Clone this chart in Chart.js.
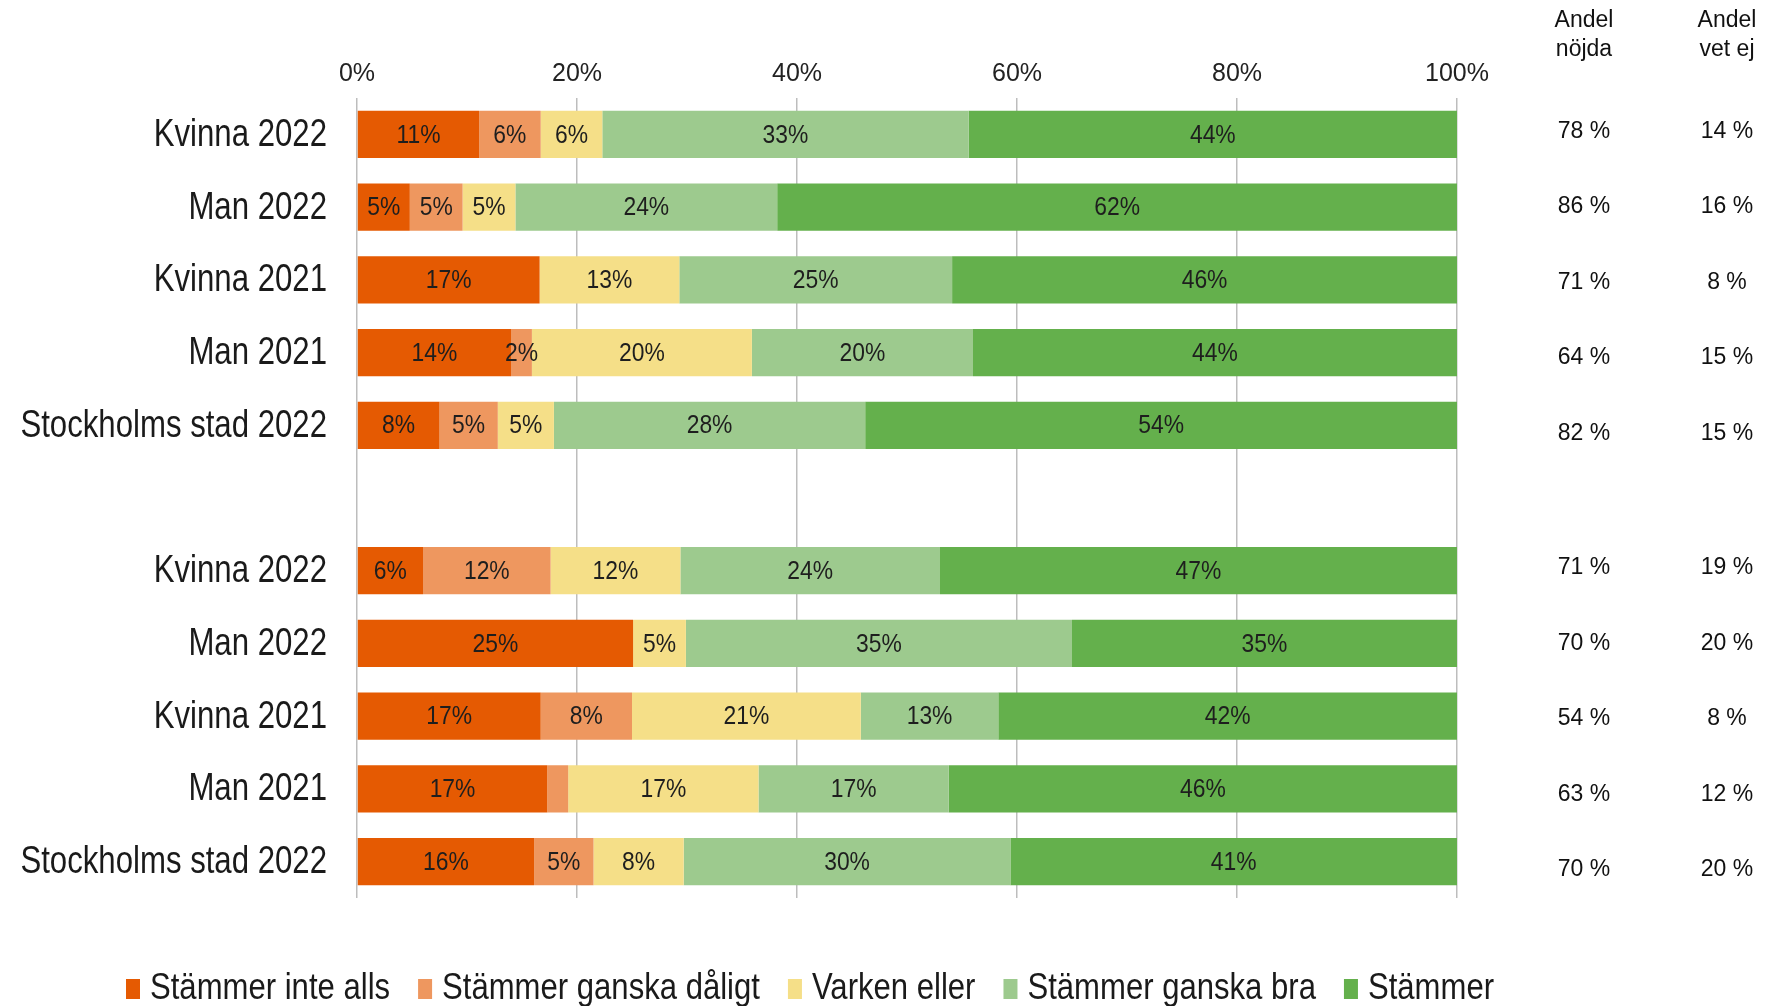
<!DOCTYPE html>
<html>
<head>
<meta charset="utf-8">
<script src="https://cdn.jsdelivr.net/npm/chart.js@4.4.1/dist/chart.umd.min.js"></script>
<style>
  html, body { margin: 0; padding: 0; background: #fff; }
</style>
</head>
<body>
<canvas id="chart" width="1770" height="1006"></canvas>
<script>
// kategorier (tom rad skiljer de två grupperna)
const categories = ['Kvinna 2022', 'Man 2022', 'Kvinna 2021', 'Man 2021', 'Stockholms stad 2022', '',
  'Kvinna 2022', 'Man 2022', 'Kvinna 2021', 'Man 2021', 'Stockholms stad 2022'];
const seriesNames = ['Stämmer inte alls', 'Stämmer ganska dåligt', 'Varken eller', 'Stämmer ganska bra', 'Stämmer'];

// andelar i procent
const inteAlls     = [11.1, 4.8, 16.6, 14.0, 7.5, null, 6.0, 25.1, 16.7, 17.3, 16.1];
const ganskaDaligt = [5.6, 4.8, 0, 1.9, 5.3, null, 11.6, 0, 8.3, 1.9, 5.4];
const varkenEller  = [5.6, 4.8, 12.7, 20.0, 5.1, null, 11.8, 4.8, 20.8, 17.3, 8.2];
const ganskaBra    = [33.3, 23.8, 24.8, 20.1, 28.3, null, 23.6, 35.1, 12.5, 17.3, 29.7];
const stammer      = [44.4, 61.8, 45.9, 44.0, 53.8, null, 47.0, 35.0, 41.7, 46.2, 40.6];

// kolumnerna till höger
const andelNojda = [78, 86, 71, 64, 82, null, 71, 70, 54, 63, 70];
const andelVetEj = [14, 16, 8, 15, 15, null, 19, 20, 8, 12, 20];

const xTicks = [0, 20, 40, 60, 80, 100];
const unlabeled = ['1-9']; // liten stapel utan etikett (dataset-rad)

const colors = ['#E55A02', '#EE975F', '#F5DF88', '#9DCA8E', '#64B04C'];
const family = "'Liberation Sans', Arial, sans-serif";

const seriesData = [inteAlls, ganskaDaligt, varkenEller, ganskaBra, stammer];

// smal text: typsnittet trycks ihop i x-led
function narrowText(ctx, text, x, y, align, sx) {
  ctx.save();
  ctx.translate(x, y);
  ctx.scale(sx, 1);
  ctx.textAlign = align;
  ctx.fillText(text, 0, 0);
  ctx.restore();
}

const labelPlugin = {
  id: 'segmentLabels',
  afterDatasetsDraw(chart) {
    const ctx = chart.ctx;
    ctx.save();
    ctx.font = '26px ' + family;
    ctx.fillStyle = '#1e1e1e';
    ctx.textBaseline = 'middle';
    chart.data.datasets.forEach((ds, di) => {
      chart.getDatasetMeta(di).data.forEach((bar, i) => {
        const v = ds.data[i];
        if (!v || unlabeled.includes(di + '-' + i)) return;
        narrowText(ctx, Math.round(v) + '%', (bar.x + bar.base) / 2, bar.y + 1, 'center', 0.88);
      });
    });
    ctx.restore();
  },
  afterDraw(chart) {
    const ctx = chart.ctx;
    const y = chart.scales.y;
    const left = chart.chartArea.left;
    ctx.save();
    ctx.textBaseline = 'middle';

    // kategorietiketter
    ctx.fillStyle = '#1a1a1a';
    ctx.font = '38px ' + family;
    categories.forEach((c, i) => {
      if (c) narrowText(ctx, c, left - 30, y.getPixelForValue(i) + 1, 'right', 0.82);
    });

    // kolumner till höger
    ctx.fillStyle = '#111';
    ctx.textAlign = 'center';
    ctx.font = '23px ' + family;
    const colX = [1584, 1727];
    ctx.fillText('Andel', colX[0], 21);
    ctx.fillText('nöjda', colX[0], 50);
    ctx.fillText('Andel', colX[1], 21);
    ctx.fillText('vet ej', colX[1], 50);
    categories.forEach((c, i) => {
      if (andelNojda[i] == null) return;
      const k = i % 6;
      const py = y.getPixelForValue(i) - 3 + k * 2.8;
      ctx.fillText(andelNojda[i] + ' %', colX[0], py);
      ctx.fillText(andelVetEj[i] + ' %', colX[1], py);
    });

    // förklaring
    ctx.font = '37px ' + family;
    const sx = 0.84;
    let lx = 126;
    const ly = 989;
    seriesNames.forEach((name, i) => {
      ctx.fillStyle = colors[i];
      ctx.fillRect(lx, ly - 10, 14, 20);
      ctx.fillStyle = '#1a1a1a';
      narrowText(ctx, name, lx + 24, ly, 'left', sx);
      lx += 24 + ctx.measureText(name).width * sx + 28;
    });
    ctx.restore();
  }
};

const ctx = document.getElementById('chart').getContext('2d');
new Chart(ctx, {
  type: 'bar',
  data: {
    labels: categories,
    datasets: seriesNames.map((name, i) => ({
      label: name,
      data: seriesData[i],
      backgroundColor: colors[i],
      borderWidth: 0,
      barPercentage: 0.65,
      categoryPercentage: 1
    }))
  },
  options: {
    indexAxis: 'y',
    responsive: false,
    animation: false,
    layout: { padding: { left: 0, right: 313, top: 0, bottom: 108 } },
    plugins: { legend: { display: false }, tooltip: { enabled: false } },
    scales: {
      x: {
        position: 'top',
        stacked: true,
        min: 0,
        max: 100,
        afterBuildTicks(scale) { scale.ticks = xTicks.map(v => ({ value: v })); },
        afterFit(scale) { scale.height = 98; },
        ticks: {
          callback: v => v + '%',
          padding: 9,
          color: '#222',
          font: { family: family, size: 25 }
        },
        grid: { color: '#BDBDBD', lineWidth: 1.5, drawTicks: false },
        border: { display: false }
      },
      y: {
        stacked: true,
        afterFit(scale) { scale.width = 357; },
        ticks: { display: false },
        grid: { display: false },
        border: { display: false }
      }
    }
  },
  plugins: [labelPlugin]
});
</script>
</body>
</html>
